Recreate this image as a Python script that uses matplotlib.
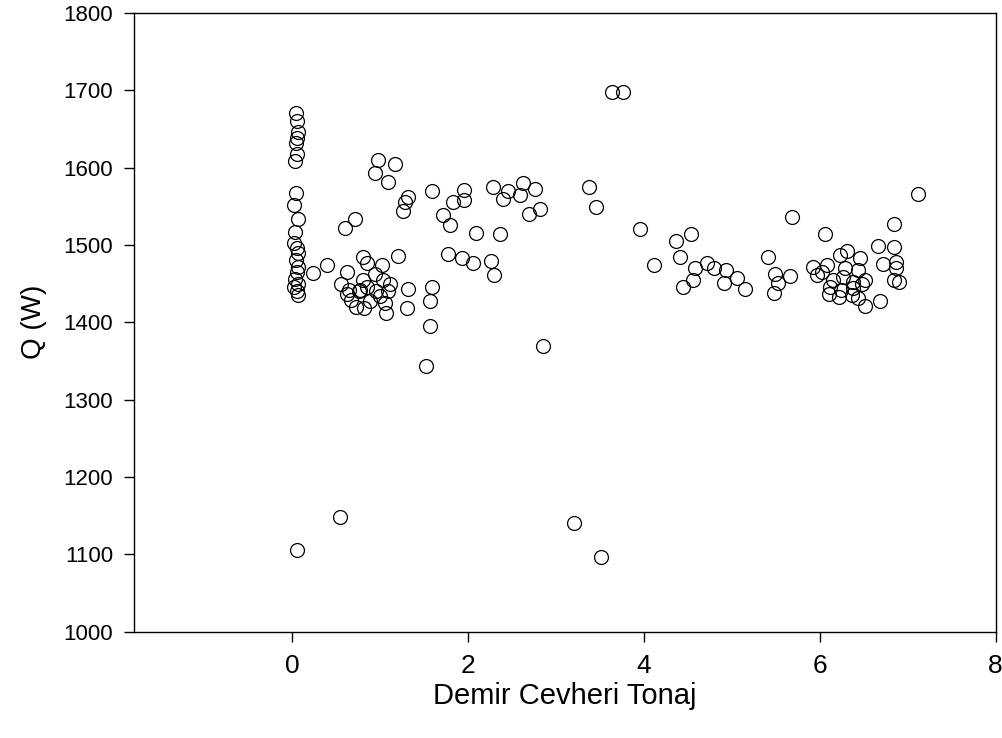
import matplotlib
matplotlib.use('Agg')
import matplotlib.pyplot as plt

plt.rcParams['font.family'] = ['Liberation Sans', 'DejaVu Sans']

# tonnage (x) and Q in W (y)
tonaj = [0.04, 0.05, 0.06, 0.05, 0.04, 0.05, 0.03,
         0.04, 0.02, 0.07, 0.03, 0.02, 0.05, 0.06, 0.04, 0.07, 0.05, 0.03, 0.06, 0.02, 0.05, 0.06, 0.05,
         0.24, 0.40,
         0.98, 1.17, 0.94, 1.09, 1.585, 1.32, 1.28, 1.26, 0.71, 0.60, 1.20, 0.80, 0.845, 1.02, 0.62, 0.56,
         0.65, 0.77, 1.09, 1.32, 1.585, 1.565, 1.30, 1.565, 1.07, 0.73, 0.88, 1.0, 0.67, 1.03, 0.94, 1.11,
         0.62, 0.80, 0.76, 0.85, 0.95, 1.05, 0.82, 1.52, 0.54,
         1.95, 1.83, 1.95, 1.72, 1.80, 1.77, 1.93, 2.28, 2.45, 2.63, 2.59, 2.76, 2.40, 2.69, 2.82, 3.38,
         3.46, 3.96, 2.09, 2.36, 2.06, 2.26, 2.29, 2.85, 3.64, 3.76, 3.21, 3.51,
         4.37, 4.54, 4.41, 4.12, 4.58, 4.72, 4.80, 4.93, 5.06, 4.91, 5.15, 4.56, 4.44, 5.69, 5.41, 5.49,
         5.66, 5.52, 5.48,
         7.12, 6.84, 6.06, 6.66, 6.84, 6.72, 6.87, 6.87, 6.84, 6.90, 6.68, 6.52, 6.46, 6.31, 6.23, 5.92,
         6.08, 5.97, 6.03, 6.29, 6.44, 6.15, 6.26, 6.38, 6.52, 6.12, 6.24, 6.38, 6.10, 6.22, 6.37, 6.44, 6.48]
q = [1671, 1660, 1646, 1638, 1632, 1617, 1608,
     1567, 1552, 1534, 1517, 1502, 1496, 1489, 1480, 1472, 1465, 1456, 1450, 1445, 1440, 1435, 1106,
     1464, 1474,
     1610, 1605, 1593, 1582, 1570, 1562, 1556, 1544, 1533, 1522, 1486, 1484, 1477, 1474, 1465, 1450,
     1442, 1442, 1440, 1443, 1445, 1427, 1419, 1395, 1412, 1420, 1427, 1434, 1429, 1455, 1463, 1450,
     1437, 1455, 1440, 1445, 1440, 1425, 1418, 1343, 1148,
     1571, 1556, 1558, 1539, 1526, 1488, 1483, 1575, 1570, 1580, 1565, 1572, 1559, 1540, 1547, 1575,
     1549, 1521, 1516, 1514, 1476, 1479, 1461, 1369, 1698, 1698, 1140, 1096,
     1505, 1514, 1484, 1474, 1470, 1476, 1470, 1468, 1457, 1451, 1443, 1454, 1446, 1536, 1484, 1463,
     1460, 1451, 1438,
     1566, 1527, 1514, 1498, 1497, 1475, 1478, 1470, 1454, 1452, 1427, 1421, 1483, 1492, 1487, 1472,
     1474, 1461, 1465, 1470, 1468, 1455, 1459, 1452, 1455, 1446, 1442, 1444, 1437, 1433, 1435, 1431, 1450]

xticks = [0, 2, 4, 6, 8]
yticks = [1000, 1100, 1200, 1300, 1400, 1500, 1600, 1700, 1800]

fig = plt.figure(figsize=(10.03, 7.38), dpi=100)
ax = fig.add_axes([0.1336, 0.1443, 0.859, 0.8381])
ax.plot(tonaj, q, 'o', mfc='none', mec='black', ms=10, mew=0.9)

ax.set_xlim(-1.8, 8)
ax.set_ylim(1000, 1800)
ax.set_xticks(xticks)
ax.set_yticks(yticks)
ax.tick_params(axis='x', labelsize=19, length=7, width=1, pad=9)
ax.tick_params(axis='y', labelsize=16, length=7, width=1, pad=8)
for s in ax.spines.values():
    s.set_linewidth(1)
ax.set_xlabel('Demir Cevheri Tonaj', fontsize=21, labelpad=3)
ax.set_ylabel('Q (W)', fontsize=20, labelpad=12)

fig.savefig('out.png', dpi=100)
